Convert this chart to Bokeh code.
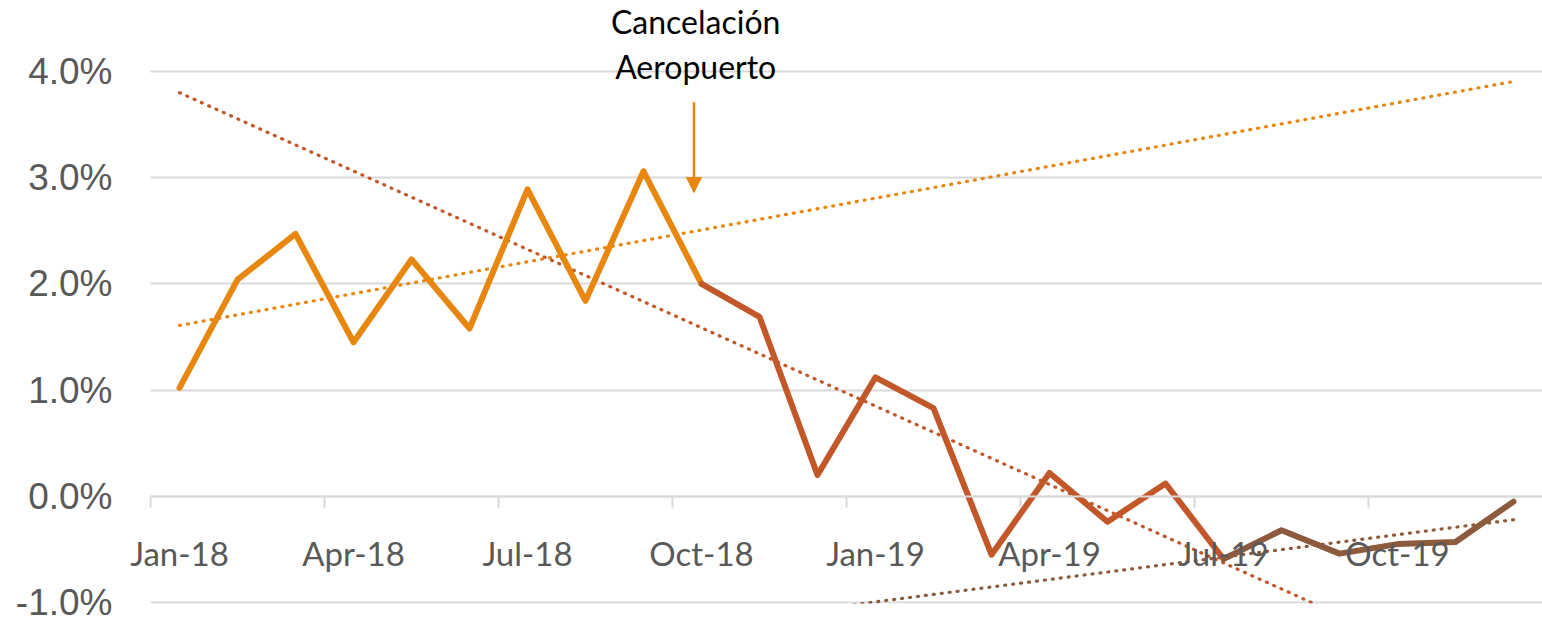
import numpy as np
from bokeh.plotting import figure
from bokeh.models import (FixedTicker, PrintfTickFormatter, Range1d, Label,
                          Arrow, NormalHead, ColumnDataSource)
from bokeh.embed import file_html
from bokeh.resources import INLINE

# ---------------- data ----------------
months = ["Jan-18", "Feb-18", "Mar-18", "Apr-18", "May-18", "Jun-18",
          "Jul-18", "Aug-18", "Sep-18", "Oct-18", "Nov-18", "Dec-18",
          "Jan-19", "Feb-19", "Mar-19", "Apr-19", "May-19", "Jun-19",
          "Jul-19", "Aug-19", "Sep-19", "Oct-19", "Nov-19", "Dec-19"]
# monthly growth (%)
growth = [1.02, 2.04, 2.47, 1.45, 2.23, 1.58, 2.89, 1.84, 3.06, 2.00,
          1.69, 0.20, 1.12, 0.83, -0.55, 0.22, -0.24, 0.12, -0.59,
          -0.32, -0.54, -0.45, -0.43, -0.05]
# three periods (first / last month index of each)
period_a = (0, 9)    # Jan-18 .. Oct-18
period_b = (9, 18)   # Oct-18 .. Jul-19
period_c = (18, 23)  # Jul-19 .. Dec-19
y_ticks = [-1, 0, 1, 2, 3, 4]
label_months = ["Jan-18", "Apr-18", "Jul-18", "Oct-18",
                "Jan-19", "Apr-19", "Jul-19", "Oct-19"]
annotation = ["Cancelación", "Aeropuerto"]

# ---------------- style ----------------
C_A = "#E8870F"
C_B = "#C2582A"
C_C = "#8C5A3C"
GRID = "#D9D9D9"
TXT = "#595959"

xi = list(range(len(months)))
cat_lo, cat_hi = xi[0] - 0.5, xi[-1] + 0.5   # category area limits

p = figure(width=1542, height=623, output_backend="svg", toolbar_location=None,
           x_range=Range1d(cat_lo - 30 / 58, cat_hi), y_range=Range1d(-1.0094, 4.668),
           min_border_left=120, min_border_right=0, min_border_top=0,
           min_border_bottom=20)
p.outline_line_color = None
p.background_fill_color = "white"
p.border_fill_color = "white"

# grid (horizontal lines only over the category area)
p.xgrid.visible = False
yg = p.ygrid[0]
if "cross_bounds" in yg.properties():
    yg.ticker = FixedTicker(ticks=y_ticks)
    yg.cross_bounds = (cat_lo, cat_hi)
    yg.grid_line_color = GRID
    yg.grid_line_width = 2
else:
    yg.visible = False
    p.segment(x0=[cat_lo] * len(y_ticks), x1=[cat_hi] * len(y_ticks),
              y0=y_ticks, y1=y_ticks, line_color=GRID, line_width=2,
              level="underlay")

# y axis
p.yaxis.ticker = FixedTicker(ticks=y_ticks)
p.yaxis.formatter = PrintfTickFormatter(format="%.1f%%")
p.yaxis.axis_line_color = None
p.yaxis.major_tick_line_color = None
p.yaxis.minor_tick_line_color = None
p.yaxis.major_tick_out = 0
p.yaxis.major_label_standoff = 8
p.yaxis.major_label_text_font = "Liberation Sans"
p.yaxis.major_label_text_font_size = "37px"
p.yaxis.major_label_text_color = TXT

# x axis at y = 0: labels at quarter months, ticks on category boundaries
centers = [xi[months.index(m)] for m in label_months]
bounds = [c - 0.5 for c in centers]
xa = p.xaxis[0]
xa.fixed_location = 0
xa.bounds = (cat_lo, cat_hi)
xa.ticker = FixedTicker(ticks=centers, minor_ticks=bounds)
xa.major_label_overrides = {float(c): m for c, m in zip(centers, label_months)}
xa.axis_line_color = GRID
xa.axis_line_width = 2
xa.major_tick_line_color = None
xa.major_tick_out = 0
xa.major_tick_in = 0
xa.minor_tick_line_color = GRID
xa.minor_tick_line_width = 2
xa.minor_tick_out = 11
xa.minor_tick_in = 0
xa.major_label_standoff = 26
xa.major_label_text_font = "Lato"
xa.major_label_text_font_size = "33px"
xa.major_label_text_color = TXT

# trend lines (least-squares fits of each period, drawn across the full span)
span = np.array([xi[0], xi[-1]], dtype=float)
for (a, b), col in [(period_a, C_A), (period_b, C_B), (period_c, C_C)]:
    xs = np.array(xi[a:b + 1], dtype=float)
    ys = np.array(growth[a:b + 1], dtype=float)
    k, c0 = np.polyfit(xs, ys, 1)
    p.line(span, k * span + c0, line_color=col, line_width=3.2,
           line_dash="1 7", line_cap="round")

# main series
for (a, b), col in [(period_a, C_A), (period_b, C_B), (period_c, C_C)]:
    src = ColumnDataSource(dict(x=xi[a:b + 1], y=growth[a:b + 1]))
    p.line("x", "y", source=src, line_color=col, line_width=6,
           line_join="round", line_cap="round")

# annotation
ax = 8.9
p.add_layout(Label(x=ax, y=4.473, text=annotation[0], text_align="center",
                   text_baseline="alphabetic", text_font="Lato",
                   text_font_size="32px", text_color="black"))
p.add_layout(Label(x=ax, y=4.05, text=annotation[1], text_align="center",
                   text_baseline="alphabetic", text_font="Lato",
                   text_font_size="32px", text_color="black"))
p.add_layout(Arrow(end=NormalHead(size=15, fill_color=C_A, line_color=C_A),
                   x_start=ax - 0.03, y_start=3.71, x_end=ax - 0.03, y_end=2.86,
                   line_color=C_A, line_width=2.5))

open("out.html", "w").write(file_html(p, INLINE))
